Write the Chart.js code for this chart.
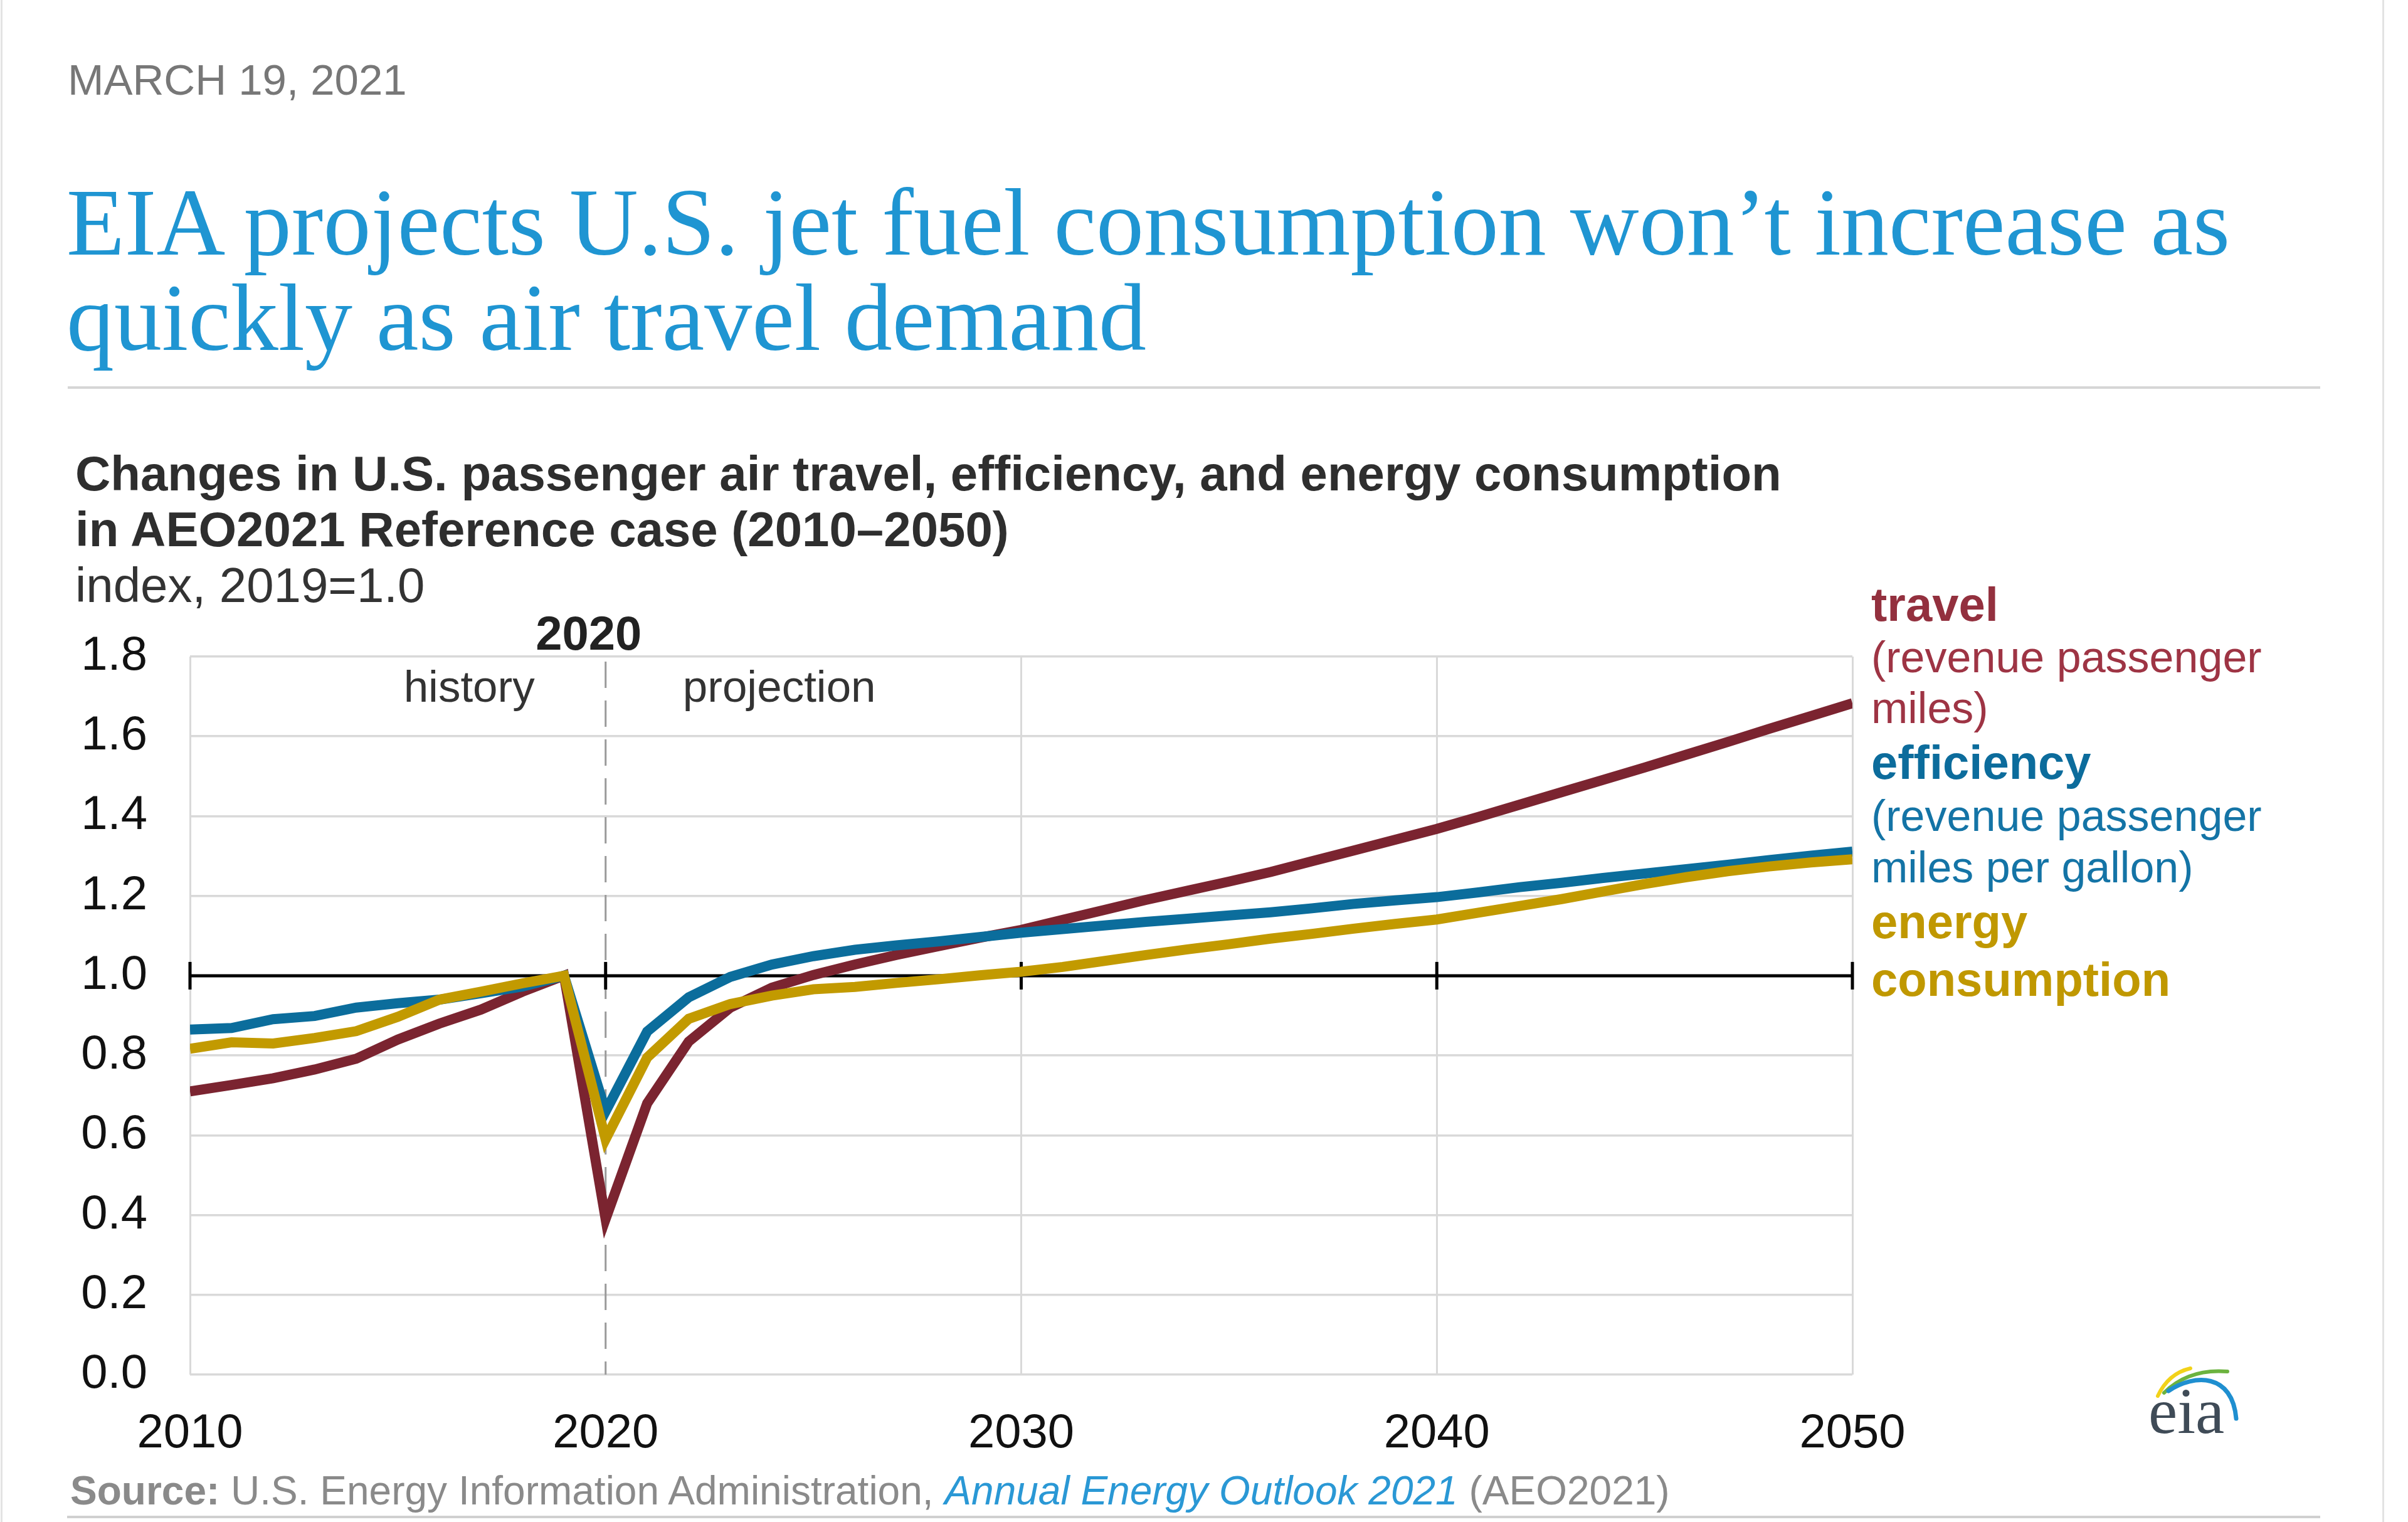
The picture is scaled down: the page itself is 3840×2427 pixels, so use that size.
<!DOCTYPE html>
<html>
<head>
<meta charset="utf-8">
<script src="https://cdn.jsdelivr.net/npm/chart.js@4/dist/chart.umd.min.js"></script>
<style>
  html, body { margin:0; padding:0; background:#fff; }
  body { width:3840px; height:2427px; overflow:hidden; position:relative; }
  #c { position:absolute; left:0; top:0; }
  .t { position:absolute; white-space:nowrap; }
  #date { left:108px; top:93px; font:69px/69px "Liberation Sans", Arial, sans-serif; color:#777; }
  #title { left:106px; top:279px; font:152px/152px "Liberation Serif", "Times New Roman", serif; color:#1f95d2; }
  #rule1 { position:absolute; left:108px; top:616px; width:3592px; height:4px; background:#d6d6d6; }
  #ctitle { left:120px; top:711px; font:bold 78px/89px "Liberation Sans", Arial, sans-serif; color:#2e2e2e; }
  #ctitle span { font-weight:normal; color:#333; }
  #source { left:112px; top:2345px; font:64px/64px "Liberation Sans", Arial, sans-serif; color:#8a8a8a; }
  #source b { font-weight:bold; }
  #source i { color:#2a98d5; }
  #rule2 { position:absolute; left:107px; top:2417px; width:3593px; height:4px; background:#d0d0d0; }
  #frameL { position:absolute; left:1px; top:0; width:3px; height:2427px; background:#e3e3e3; }
  #frameR { position:absolute; left:3799px; top:0; width:3px; height:2427px; background:#e3e3e3; }
</style>
</head>
<body>
<canvas id="c" width="3840" height="2427"></canvas>
<div id="frameL"></div><div id="frameR"></div>
<div class="t" id="date">MARCH 19, 2021</div>
<div class="t" id="title">EIA projects U.S. jet fuel consumption won’t increase as<br>quickly as air travel demand</div>
<div id="rule1"></div>
<div class="t" id="ctitle">Changes in U.S. passenger air travel, efficiency, and energy consumption<br>in AEO2021 Reference case (2010–2050)<br><span>index, 2019=1.0</span></div>
<div class="t" id="source"><b>Source:</b> U.S. Energy Information Administration, <i>Annual Energy Outlook 2021</i> (AEO2021)</div>
<div id="rule2"></div>
<script>
// ---- data ----
const years = [2010,2011,2012,2013,2014,2015,2016,2017,2018,2019,
  2020,2021,2022,2023,2024,2025,2026,2027,2028,2029,
  2030,2031,2032,2033,2034,2035,2036,2037,2038,2039,
  2040,2041,2042,2043,2044,2045,2046,2047,2048,2049,2050];
const travel = [0.710,0.726,0.743,0.765,0.792,0.840,0.880,0.915,0.960,1.000,
  0.390,0.680,0.835,0.920,0.970,1.002,1.028,1.052,1.074,1.095,
  1.115,1.140,1.165,1.190,1.213,1.236,1.260,1.287,1.314,1.341,
  1.368,1.398,1.429,1.460,1.491,1.522,1.554,1.586,1.619,1.651,1.683];
const efficiency = [0.865,0.869,0.891,0.899,0.920,0.931,0.940,0.956,0.973,1.000,
  0.660,0.860,0.946,0.997,1.028,1.049,1.065,1.076,1.086,1.097,
  1.108,1.117,1.126,1.135,1.143,1.151,1.159,1.169,1.180,1.189,
  1.197,1.209,1.222,1.233,1.245,1.256,1.267,1.278,1.290,1.301,1.311];
const energy = [0.817,0.833,0.830,0.844,0.861,0.897,0.940,0.960,0.981,1.000,
  0.590,0.795,0.892,0.929,0.950,0.966,0.972,0.982,0.991,1.001,
  1.010,1.022,1.037,1.052,1.066,1.079,1.093,1.105,1.118,1.130,
  1.141,1.158,1.175,1.192,1.211,1.230,1.247,1.262,1.274,1.284,1.292];
const xTickLabels = [2010,2020,2030,2040,2050];
const yTickLabels = [0.0,0.2,0.4,0.6,0.8,1.0,1.2,1.4,1.6,1.8];
const seriesNames = ['travel','efficiency','energy consumption'];
const seriesColors = ['#7b2430','#0b6d9c','#c29a00'];

const FONT = '"Liberation Sans", Arial, sans-serif';
const pts = arr => years.map((y,i)=>({x:y, y:arr[i]}));

const annot = {
  id:'annot',
  beforeDatasetsDraw(chart){
    const {ctx, chartArea:a, scales:{x,y}} = chart;
    ctx.save();
    const x20 = x.getPixelForValue(2020);
    ctx.strokeStyle = '#9a9a9a'; ctx.lineWidth = 3; ctx.setLineDash([42,20]);
    ctx.beginPath(); ctx.moveTo(x20, a.top+8); ctx.lineTo(x20, a.bottom); ctx.stroke();
    ctx.setLineDash([]);
    const y1 = y.getPixelForValue(1.0);
    ctx.strokeStyle = '#000'; ctx.lineWidth = 5;
    ctx.beginPath(); ctx.moveTo(a.left, y1); ctx.lineTo(a.right, y1); ctx.stroke();
    xTickLabels.forEach(v=>{
      const px = x.getPixelForValue(v);
      ctx.beginPath(); ctx.moveTo(px, y1-22); ctx.lineTo(px, y1+22); ctx.stroke();
    });
    ctx.restore();
  },
  afterDraw(chart){
    const {ctx, chartArea:a, scales:{x}} = chart;
    const x20 = x.getPixelForValue(2020);
    ctx.save();
    ctx.textBaseline = 'alphabetic';
    ctx.fillStyle = '#222'; ctx.font = 'bold 76px '+FONT; ctx.textAlign = 'center';
    ctx.fillText('2020', x20-27, 1036);
    ctx.font = '71px '+FONT; ctx.fillStyle = '#333';
    ctx.textAlign = 'right'; ctx.fillText('history', x20-113, 1119);
    ctx.textAlign = 'left'; ctx.fillText('projection', x20+123, 1119);
    const lx = a.right + 30;
    const lines = [
      ['travel', true, '#93303e', 990],
      ['(revenue passenger', false, '#9e3444', 1072],
      ['miles)', false, '#9e3444', 1153],
      ['efficiency', true, '#0c6c9c', 1242],
      ['(revenue passenger', false, '#1474a6', 1325],
      ['miles per gallon)', false, '#1474a6', 1407],
      ['energy', true, '#c09800', 1496],
      ['consumption', true, '#c09800', 1588]
    ];
    lines.forEach(([t,b,c,yy])=>{
      ctx.font = (b?'bold 76px ':'70px ')+FONT; ctx.fillStyle = c;
      ctx.fillText(t, lx, yy);
    });
    ctx.lineCap = 'round';
    ctx.lineWidth = 6;
    ctx.strokeStyle = '#f2d21a';
    ctx.beginPath(); ctx.moveTo(3441,2226); ctx.quadraticCurveTo(3458,2190,3493,2182); ctx.stroke();
    ctx.strokeStyle = '#6cb33f';
    ctx.beginPath(); ctx.moveTo(3451,2221); ctx.quadraticCurveTo(3490,2182,3552,2187); ctx.stroke();
    ctx.strokeStyle = '#1f8fd0'; ctx.lineWidth = 7;
    ctx.beginPath(); ctx.moveTo(3458,2218); ctx.bezierCurveTo(3500,2190,3560,2190,3566,2262); ctx.stroke();
    ctx.fillStyle = '#3f4b57'; ctx.font = '104px "Liberation Serif", serif'; ctx.textAlign = 'left';
    ctx.fillText('eia', 3426, 2285);
    ctx.restore();
  }
};

new Chart(document.getElementById('c'), {
  type:'line',
  data:{ datasets:[
    {label:seriesNames[0], data:pts(travel), borderColor:seriesColors[0], order:2},
    {label:seriesNames[1], data:pts(efficiency), borderColor:seriesColors[1], order:1},
    {label:seriesNames[2], data:pts(energy), borderColor:seriesColors[2], order:0}
  ].map(d=>Object.assign(d,{borderWidth:16, pointRadius:0, tension:0, fill:false, borderJoinStyle:'miter'}))},
  options:{
    responsive:false, animation:false, devicePixelRatio:1,
    layout:{padding:{top:1047, right:886, bottom:0, left:0}},
    plugins:{legend:{display:false}, tooltip:{enabled:false}, title:{display:false}},
    scales:{
      x:{type:'linear', min:2010, max:2050,
        afterBuildTicks: s => { s.ticks = xTickLabels.map(v=>({value:v})); },
        grid:{color: c => (c.tick && c.tick.value===2020) ? 'rgba(0,0,0,0)' : '#d9d9d9', lineWidth:3, drawTicks:false},
        border:{display:false},
        ticks:{font:{family:FONT, size:76}, color:'#111', padding:49, maxRotation:0, autoSkip:false, callback:v=>String(v)},
        afterFit: s => { s.height = 235; }
      },
      y:{min:0, max:1.8,
        afterBuildTicks: s => { s.ticks = yTickLabels.map(v=>({value:v})); },
        grid:{color:'#d9d9d9', lineWidth:3.5, drawTicks:false},
        border:{display:false},
        ticks:{font:{family:FONT, size:76}, color:'#111', padding:68, callback:v=>Number(v).toFixed(1)},
        afterFit: s => { s.width = 303; }
      }
    }
  },
  plugins:[annot]
});
</script>
</body>
</html>
